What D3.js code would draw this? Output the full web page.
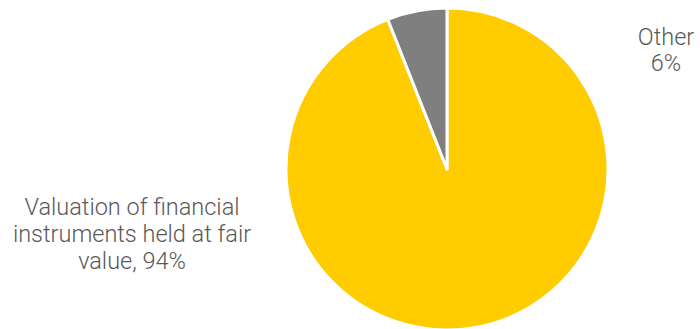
<!DOCTYPE html>
<html>
<head>
<meta charset="utf-8">
<script src="https://cdn.jsdelivr.net/npm/d3@7"></script>
<style>
  html, body { margin: 0; padding: 0; background: #fff; }
  svg text { font-family: Roboto, "Liberation Sans", Arial, sans-serif; font-weight: 300; fill: #595959; }
</style>
</head>
<body>
<svg id="chart" width="700" height="329"></svg>
<script>
const categories = ["Valuation of financial instruments held at fair value", "Other"];
const shares = [94, 6];
const colors = ["#FFCC00", "#7F7F7F"];
const labelLines = [
  ["Valuation of financial", "instruments held at fair", "value, 94%"],
  ["Other", "6%"]
];

const svg = d3.select("#chart");
const cx = 447, cy = 169, radius = 161;

const pie = d3.pie().sort(null).value(d => d.value);
const arcs = pie(categories.map((c, i) => ({ name: c, value: shares[i], color: colors[i] })));
const arc = d3.arc().innerRadius(0).outerRadius(radius);

const g = svg.append("g").attr("transform", `translate(${cx},${cy})`);
g.selectAll("path")
  .data(arcs)
  .join("path")
  .attr("d", arc)
  .attr("fill", d => d.data.color)
  .attr("stroke", "#fff")
  .attr("stroke-width", 3)
  .attr("stroke-linejoin", "round");

// Labels placed beside the pie
const labelPos = [
  { x: 132, y: 215, lh: 27 },
  { x: 666, y: 45, lh: 26 }
];
labelLines.forEach((lines, i) => {
  const p = labelPos[i];
  const t = svg.append("text")
    .attr("text-anchor", "middle")
    .attr("font-size", 23.5)
    .attr("x", p.x)
    .attr("y", p.y);
  lines.forEach((ln, j) => {
    t.append("tspan").attr("x", p.x).attr("dy", j === 0 ? 0 : p.lh).text(ln);
  });
});
</script>
</body>
</html>
